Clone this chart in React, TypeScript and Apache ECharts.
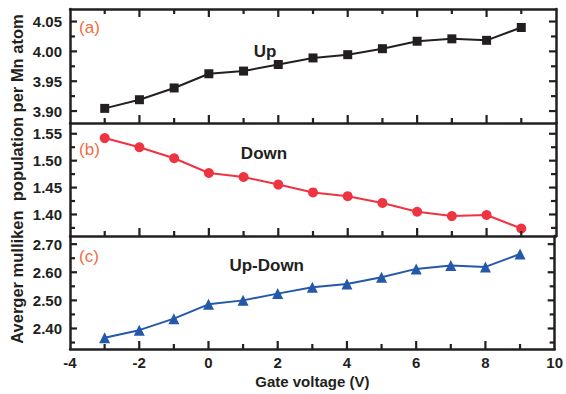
import React, { useEffect, useRef } from "react";
import * as echarts from "echarts";

const gateVoltage = [-3, -2, -1, 0, 1, 2, 3, 4, 5, 6, 7, 8, 9];
const upValues = [3.9045, 3.919, 3.9387, 3.9625, 3.967, 3.978, 3.989, 3.9945, 4.0045, 4.017, 4.021, 4.0185, 4.04];
const downValues = [1.542, 1.525, 1.5045, 1.477, 1.4696, 1.4556, 1.441, 1.434, 1.4215, 1.405, 1.397, 1.399, 1.374];
const upDownValues = [2.367, 2.394, 2.435, 2.486, 2.5, 2.524, 2.547, 2.558, 2.582, 2.612, 2.624, 2.619, 2.665];

const xMajorTicks = [-2, 0, 2, 4, 6, 8];
const xMinorTicks = [-3, -1, 1, 3, 5, 7, 9];
const upMajor = [3.9, 3.95, 4.0, 4.05];
const upMinor = [3.925, 3.975, 4.025];
const downMajor = [1.4, 1.45, 1.5, 1.55];
const downMinor = [1.375, 1.425, 1.475, 1.525];
const udMajor = [2.4, 2.5, 2.6, 2.7];
const udMinor = [2.35, 2.45, 2.55, 2.65];

const panelNames = ["Up", "Down", "Up-Down"];
const panelTags = ["(a)", "(b)", "(c)"];

const INK = "#231f20";
const FONT = "Liberation Sans, Arial, sans-serif";
const X_MIN = -4;
const X_MAX = 10;
const AXIS_W = 2.5;

export default function App() {
  const ref = useRef<HTMLDivElement>(null);
  useEffect(() => {
    if (!ref.current) return;
    const chart = echarts.init(ref.current, undefined, { renderer: "svg" });

    const grids = [
      { left: 70, width: 486, top: 9, height: 114 },
      { left: 70, width: 486, top: 123, height: 113 },
      { left: 70, width: 486, top: 236, height: 113 },
    ].map((g) => ({ ...g, show: false }));

    const ranges = [
      { min: 3.88, max: 4.071, major: upMajor, minor: upMinor },
      { min: 1.36, max: 1.57, major: downMajor, minor: downMinor },
      { min: 2.327, max: 2.729, major: udMajor, minor: udMinor },
    ];

    const xBase = (gi: number, pos: "bottom" | "top", labels: boolean) => ({
      type: "value",
      gridIndex: gi,
      position: pos,
      min: X_MIN,
      max: X_MAX,
      interval: 2,
      axisLine: { show: true, onZero: false, lineStyle: { color: INK, width: AXIS_W } },
      axisTick: { show: false },
      splitLine: { show: false },
      axisLabel: labels
        ? { show: true, margin: 6, color: INK, fontSize: 15, fontWeight: "bold", fontFamily: FONT }
        : { show: false },
    });

    const xAxes: any[] = [
      xBase(0, "bottom", false),
      xBase(1, "bottom", false),
      {
        ...xBase(2, "bottom", true),
        name: "Gate voltage (V)",
        nameLocation: "middle",
        nameGap: 25,
        nameTextStyle: { color: INK, fontSize: 15, fontWeight: "bold", fontFamily: FONT },
      },
      xBase(0, "top", false),
    ];

    const yAxes: any[] = [];
    ranges.forEach((r, gi) => {
      (["left", "right"] as const).forEach((pos) => {
        yAxes.push({
          type: "value",
          gridIndex: gi,
          min: r.min,
          max: r.max,
          position: pos,
          splitLine: { show: false },
          axisLine: { show: true, onZero: false, lineStyle: { color: INK, width: AXIS_W } },
          axisTick: { show: false },
          axisLabel:
            pos === "left"
              ? {
                  show: true,
                  customValues: r.major,
                  margin: 8,
                  formatter: (v: number) => v.toFixed(2),
                  color: INK,
                  fontSize: 15,
                  fontWeight: "bold",
                  fontFamily: FONT,
                }
              : { show: false },
        });
      });
    });

    const mk = (vals: number[]) => gateVoltage.map((x, i) => [x, vals[i]]);

    const series: any[] = [
      {
        type: "line",
        xAxisIndex: 0,
        yAxisIndex: 0,
        data: mk(upValues),
        symbol: "rect",
        symbolSize: 9,
        lineStyle: { color: INK, width: 2 },
        itemStyle: { color: INK },
      },
      {
        type: "line",
        xAxisIndex: 1,
        yAxisIndex: 2,
        data: mk(downValues),
        symbol: "circle",
        symbolSize: 10,
        lineStyle: { color: "#ee3440", width: 2 },
        itemStyle: { color: "#ee3440" },
      },
      {
        type: "line",
        xAxisIndex: 2,
        yAxisIndex: 4,
        data: mk(upDownValues),
        symbol: "triangle",
        symbolSize: 11,
        lineStyle: { color: "#2458a8", width: 2 },
        itemStyle: { color: "#2458a8" },
      },
    ];

    // tick marks: [side code, value, length]; 0 bottom, 1 top, 2 left, 3 right
    ranges.forEach((r, gi) => {
      const ticks: number[][] = [];
      xMajorTicks.forEach((v) => ticks.push([0, v, 8]));
      xMinorTicks.forEach((v) => ticks.push([0, v, 5]));
      if (gi === 0) {
        xMajorTicks.forEach((v) => ticks.push([1, v, 8]));
        xMinorTicks.forEach((v) => ticks.push([1, v, 5]));
      }
      r.major.forEach((v) => {
        ticks.push([2, v, 7]);
        ticks.push([3, v, 7]);
      });
      r.minor.forEach((v) => {
        ticks.push([2, v, 5]);
        ticks.push([3, v, 5]);
      });
      series.push({
        type: "custom",
        xAxisIndex: gi,
        yAxisIndex: gi * 2,
        clip: false,
        silent: true,
        z: 5,
        data: ticks,
        dimensions: ["side", "val", "len"],
        encode: { x: 1, y: 1 },
        renderItem: (params: any, api: any) => {
          const code = api.value(0);
          const v = api.value(1);
          const len = api.value(2);
          let a: number[];
          let b: number[];
          if (code === 0) {
            a = api.coord([v, r.min]);
            b = [a[0], a[1] - len];
          } else if (code === 1) {
            a = api.coord([v, r.max]);
            b = [a[0], a[1] + len];
          } else if (code === 2) {
            a = api.coord([X_MIN, v]);
            b = [a[0] + len, a[1]];
          } else {
            a = api.coord([X_MAX, v]);
            b = [a[0] - len, a[1]];
          }
          return {
            type: "line",
            shape: { x1: a[0], y1: a[1], x2: b[0], y2: b[1] },
            style: { stroke: INK, lineWidth: 2.2 },
          };
        },
      });
    });

    const tagPos = [
      [89.5, 27.5],
      [89.5, 149],
      [89, 256],
    ];
    const namePos = [
      [265, 51.7],
      [264, 153.3],
      [266.7, 265],
    ];

    const graphic: any[] = [
      {
        type: "text",
        x: 17,
        y: 179,
        rotation: Math.PI / 2,
        style: {
          text: "Averger mulliken  population per Mn atom",
          fill: INK,
          font: `bold 16.5px ${FONT}`,
          align: "center",
          verticalAlign: "middle",
        },
      },
    ];
    panelTags.forEach((t, i) => {
      graphic.push({
        type: "text",
        x: tagPos[i][0],
        y: tagPos[i][1],
        style: { text: t, fill: "#f26b3d", font: `17px ${FONT}`, align: "center", verticalAlign: "middle" },
      });
      graphic.push({
        type: "text",
        x: namePos[i][0],
        y: namePos[i][1],
        style: { text: panelNames[i], fill: INK, font: `bold 17px ${FONT}`, align: "center", verticalAlign: "middle" },
      });
    });

    chart.setOption({
      animation: false,
      backgroundColor: "#ffffff",
      grid: grids,
      xAxis: xAxes,
      yAxis: yAxes,
      series,
      graphic,
    });
    return () => chart.dispose();
  }, []);
  return <div ref={ref} style={{ width: 566, height: 394, position: "absolute", left: 0, top: 0 }} />;
}
